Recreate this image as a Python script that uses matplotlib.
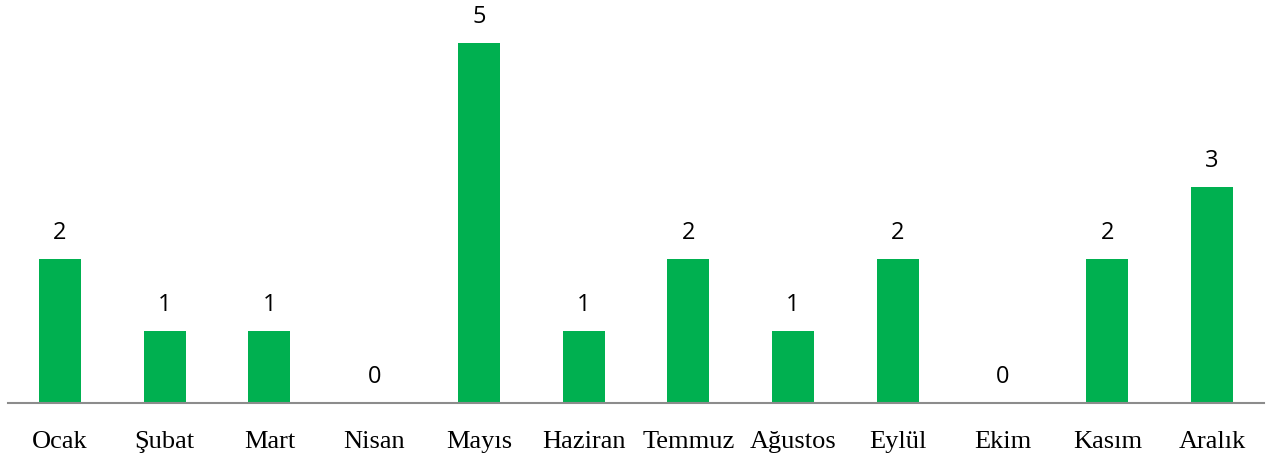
import matplotlib
matplotlib.use('Agg')
import matplotlib.pyplot as plt
import numpy as np

months = ['Ocak', 'Şubat', 'Mart', 'Nisan', 'Mayıs', 'Haziran',
          'Temmuz', 'Ağustos', 'Eylül', 'Ekim', 'Kasım', 'Aralık']
counts = [2, 1, 1, 0, 5, 1, 2, 1, 2, 0, 2, 3]

bar_color = '#00B050'

fig = plt.figure(figsize=(12.77, 4.61), dpi=100)
ax = fig.add_axes([7.6 / 1277, 58 / 461, (1264.4 - 7.6) / 1277, 403 / 461])

x = np.arange(len(months))
ax.bar(x, counts, width=0.4, color=bar_color)

for xi, v in zip(x, counts):
    ax.text(xi, v + 0.2, str(v), ha='center', va='bottom',
            fontsize=17, family='Open Sans', color='black')

ax.set_xlim(-0.5, len(months) - 0.5)
ax.set_ylim(0, 5.6)
ax.set_xticks(x)
ax.set_xticklabels(months, family='Liberation Serif', fontsize=19)
ax.tick_params(axis='x', length=0, pad=20)
ax.set_yticks([])
for s in ['top', 'right', 'left']:
    ax.spines[s].set_visible(False)
ax.spines['bottom'].set_color('#8c8c8c')
ax.spines['bottom'].set_linewidth(1.5)

fig.savefig('out.png', dpi=100)
